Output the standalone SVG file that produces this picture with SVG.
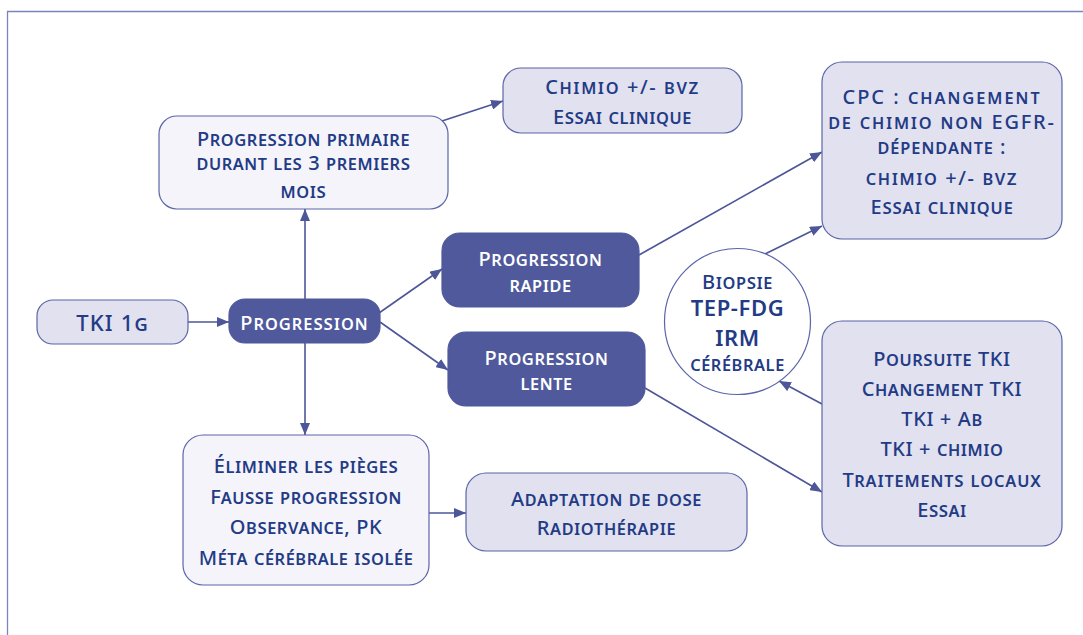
<svg xmlns="http://www.w3.org/2000/svg" width="1083" height="635" viewBox="0 0 1083 635">
<defs>
<marker id="ah" viewBox="0 0 12 10" refX="12" refY="5" markerWidth="12" markerHeight="10" markerUnits="userSpaceOnUse" orient="auto">
<path d="M0,0 L12,5 L0,10 Z" fill="#4c5698"/>
</marker>
<style>
.t{font-family:"Noto Sans","Liberation Sans",sans-serif;font-variant:small-caps;font-weight:500;font-size:20px;fill:#233b85;text-anchor:middle;letter-spacing:0.6px}
.w{fill:#ffffff}
.big{font-size:22px;font-weight:600}
.sp{letter-spacing:1.6px}
.dark{fill:#4f599c;stroke:#4f599c;stroke-width:1.2}
.light{fill:#e1e1f0;stroke:#5b65a8;stroke-width:1.2}
.pale{fill:#f4f4fa;stroke:#5b65a8;stroke-width:1.2}
.c{stroke:#4c5698;stroke-width:1.6;fill:none;marker-end:url(#ah)}
</style>
</defs>
<rect width="1083" height="635" fill="#ffffff"/>
<path d="M7.5,635 L7.5,11.5 L1083,11.5" fill="none" stroke="#7a84bd" stroke-width="1.3"/>
<g id="connectors">
<line class="c" x1="188" y1="322" x2="229" y2="322"/>
<line class="c" x1="305" y1="299" x2="305" y2="209"/>
<line class="c" x1="305" y1="343" x2="305" y2="435"/>
<line class="c" x1="442" y1="121" x2="503" y2="101"/>
<line class="c" x1="379" y1="313" x2="442" y2="269"/>
<line class="c" x1="380" y1="322" x2="448" y2="370"/>
<line class="c" x1="639" y1="255" x2="822" y2="152"/>
<line class="c" x1="765" y1="254" x2="822" y2="226"/>
<line class="c" x1="645" y1="388" x2="822" y2="492"/>
<line class="c" x1="822" y1="404" x2="779" y2="381"/>
<line class="c" x1="429" y1="513" x2="466" y2="513"/>
</g>
<g id="tki1g">
<rect class="light" x="37" y="300" width="151" height="44" rx="16"/>
<text class="t" x="112.5" y="331" style="font-size:22px;letter-spacing:1.2px">TKI 1g</text>
</g>
<g id="progression">
<rect class="dark" x="229" y="299" width="151" height="44" rx="16"/>
<text class="t w" x="304.5" y="330" style="letter-spacing:1px">Progression</text>
</g>
<g id="prog-primaire">
<rect class="pale" x="159" y="116" width="289" height="93" rx="18"/>
<text class="t" x="303.5" y="145.5">Progression primaire</text>
<text class="t" x="303.5" y="170">durant les 3 premiers</text>
<text class="t" x="303.5" y="197.5">mois</text>
</g>
<g id="chimio-bvz">
<rect class="light" x="503" y="68" width="239" height="65" rx="18"/>
<text class="t sp" x="622.5" y="94">Chimio +/- bvz</text>
<text class="t" x="622.5" y="124">Essai clinique</text>
</g>
<g id="prog-rapide">
<rect class="dark" x="442" y="233" width="197" height="74" rx="18"/>
<text class="t w" x="540.5" y="265.5">Progression</text>
<text class="t w" x="540.5" y="291.5">rapide</text>
</g>
<g id="prog-lente">
<rect class="dark" x="448" y="332" width="197" height="74" rx="18"/>
<text class="t w" x="546.5" y="365">Progression</text>
<text class="t w" x="546.5" y="390">lente</text>
</g>
<g id="cpc">
<rect class="light" x="822" y="62" width="240" height="177" rx="20"/>
<text class="t" x="942" y="104" style="letter-spacing:2px">CPC : changement</text>
<text class="t" x="942" y="129" style="letter-spacing:1.8px">de chimio non EGFR-</text>
<text class="t" x="942" y="154" style="letter-spacing:1px">dépendante :</text>
<text class="t sp" x="942" y="185">chimio +/- bvz</text>
<text class="t" x="942" y="214" style="letter-spacing:0.9px">Essai clinique</text>
</g>
<g id="biopsie">
<circle cx="737.5" cy="321.5" r="73" fill="#ffffff" stroke="#5b65a8" stroke-width="1.2"/>
<text class="t" x="737.5" y="288.5">Biopsie</text>
<text class="t big" x="737.5" y="316">TEP-FDG</text>
<text class="t big" x="737.5" y="345.5">IRM</text>
<text class="t" x="737.5" y="370.5">cérébrale</text>
</g>
<g id="poursuite">
<rect class="light" x="822" y="321" width="240" height="225" rx="20"/>
<text class="t" x="942" y="365.5">Poursuite TKI</text>
<text class="t" x="942" y="395.5">Changement TKI</text>
<text class="t" x="942" y="426">TKI + Ab</text>
<text class="t" x="942" y="455.5">TKI + chimio</text>
<text class="t" x="942" y="487" style="letter-spacing:0.9px">Traitements locaux</text>
<text class="t" x="942" y="517">Essai</text>
</g>
<g id="eliminer">
<rect class="pale" x="183" y="435" width="246" height="150" rx="20"/>
<text class="t" x="306" y="472.5">Éliminer les pièges</text>
<text class="t" x="306" y="503.5">Fausse progression</text>
<text class="t" x="306" y="534">Observance, PK</text>
<text class="t" x="306" y="565">Méta cérébrale isolée</text>
</g>
<g id="adaptation">
<rect class="light" x="466" y="473" width="281" height="78" rx="20"/>
<text class="t" x="606.5" y="505.5">Adaptation de dose</text>
<text class="t" x="606.5" y="535">Radiothérapie</text>
</g>
</svg>
